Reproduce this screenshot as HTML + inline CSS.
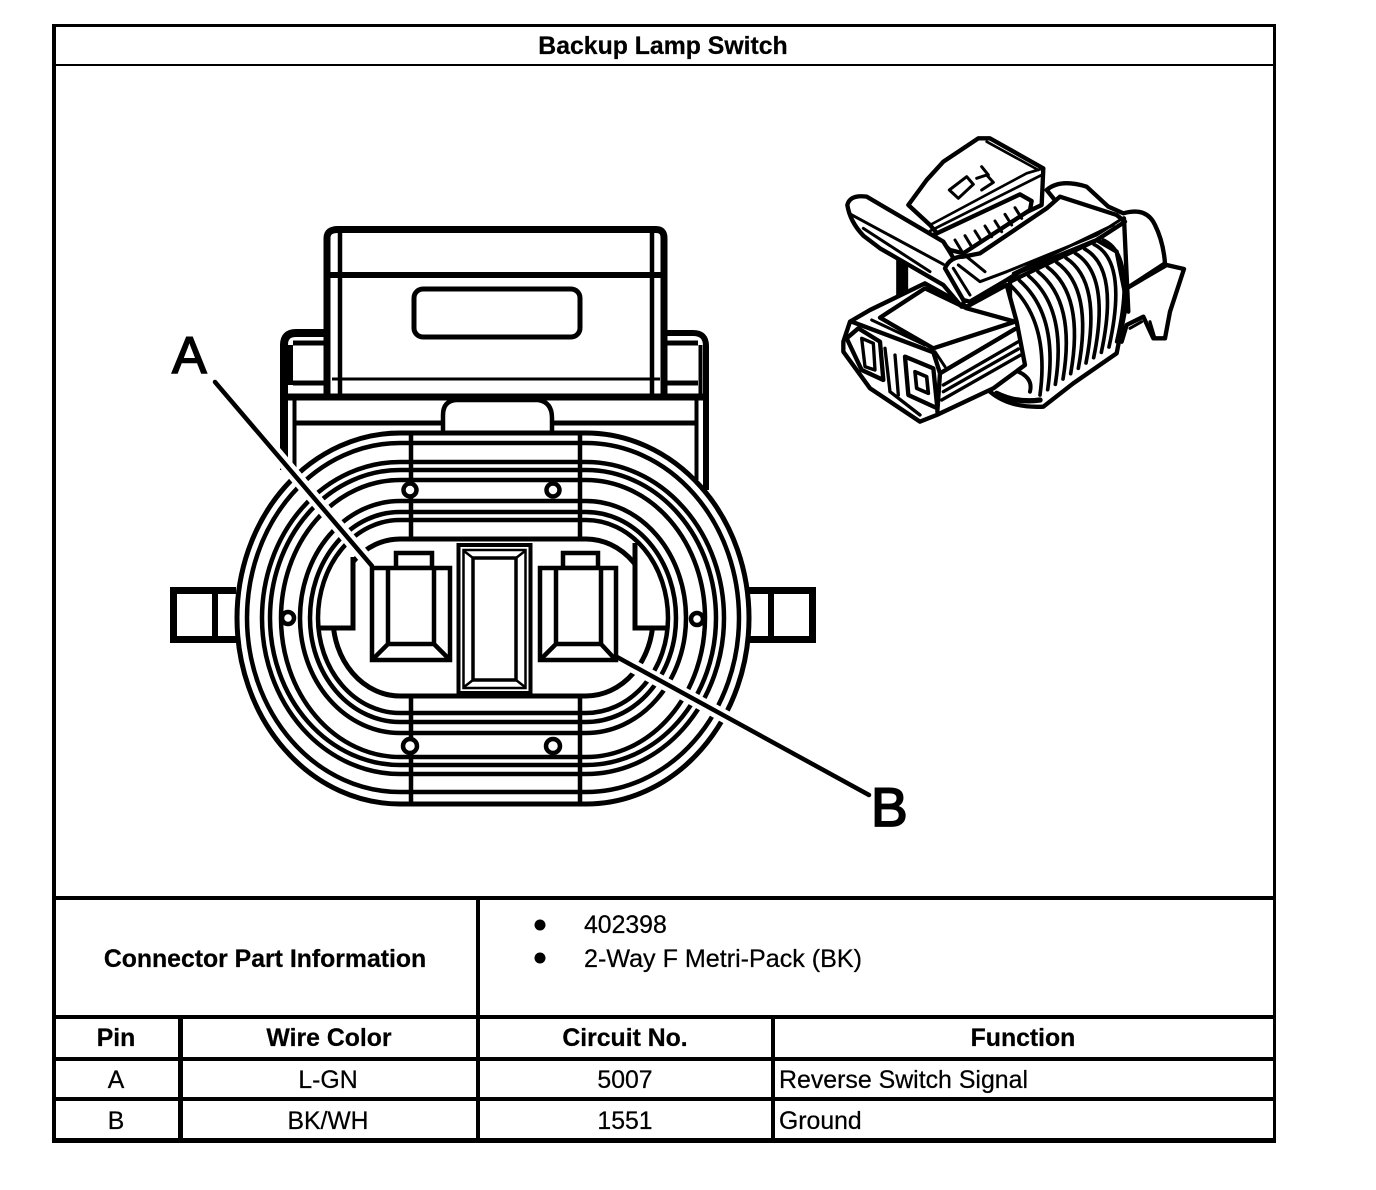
<!DOCTYPE html>
<html><head><meta charset="utf-8"><title>Backup Lamp Switch</title>
<style>
html,body{margin:0;padding:0;background:#fff;width:1376px;height:1190px;overflow:hidden}
svg{display:block}
text{font-family:"Liberation Sans",Arial,sans-serif;font-size:24.8px;fill:#000;stroke:#000;stroke-width:.25}
.b{font-weight:bold}
.m{text-anchor:middle}
</style></head><body>
<svg width="1376" height="1190" viewBox="0 0 1376 1190" xmlns="http://www.w3.org/2000/svg">
<rect width="1376" height="1190" fill="#fff"/>

<!-- table frame -->
<g fill="#000">
<rect x="52" y="24" width="1224" height="3"/>
<rect x="52" y="64" width="1224" height="2"/>
<rect x="52" y="24" width="4" height="1119"/>
<rect x="1273" y="24" width="3" height="1119"/>
<rect x="52" y="896" width="1224" height="4"/>
<rect x="52" y="1015" width="1224" height="4"/>
<rect x="52" y="1057" width="1224" height="4"/>
<rect x="52" y="1097" width="1224" height="4"/>
<rect x="52" y="1138" width="1224" height="5"/>
<rect x="476" y="896" width="4" height="247"/>
<rect x="178" y="1015" width="5" height="128"/>
<rect x="771" y="1015" width="4" height="128"/>
<circle cx="540" cy="925" r="5.5"/>
<circle cx="540" cy="958" r="5.5"/>
</g>
<text class="b m" x="663" y="54">Backup Lamp Switch</text>
<text class="b m" x="265" y="967">Connector Part Information</text>
<text x="584" y="933">402398</text>
<text x="584" y="967" textLength="278" lengthAdjust="spacingAndGlyphs">2-Way F Metri-Pack (BK)</text>
<text class="b m" x="116" y="1046">Pin</text>
<text class="b m" x="329" y="1046">Wire Color</text>
<text class="b m" x="625" y="1046">Circuit No.</text>
<text class="b m" x="1023" y="1046">Function</text>
<text class="m" x="116" y="1088">A</text>
<text class="m" x="328" y="1088">L-GN</text>
<text class="m" x="625" y="1088">5007</text>
<text x="779" y="1088" textLength="249" lengthAdjust="spacingAndGlyphs">Reverse Switch Signal</text>
<text class="m" x="116" y="1129">B</text>
<text class="m" x="328" y="1129" textLength="81" lengthAdjust="spacingAndGlyphs">BK/WH</text>
<text class="m" x="625" y="1129">1551</text>
<text x="779" y="1129">Ground</text>

<!-- front connector view -->
<g fill="none" stroke="#000" stroke-width="4">
  <!-- body behind the oval -->
  <path d="M284,470V345Q284,333 296,333H326" stroke-width="8"/>
  <path d="M286.500,345V385" stroke-width="13"/>
  <path d="M706,490V346Q706,333 693,333H666" stroke-width="6"/>
  <path d="M294.500,397V470M696.500,397V480M700.500,345V397" stroke-width="4"/>
  <path d="M293,343H326M293,383H326M667,343H698M667,383H698" stroke-width="5"/>
  <path d="M296,423H443M551,423H696" stroke-width="5"/>
  <path d="M286,397H704" stroke-width="7"/>
  <path d="M443,432V415Q443,401 456,400H538Q552,402 552,418V432" stroke-width="4.500"/>
  <!-- lid -->
  <path d="M327,397V238Q327,229.500 338,229.500H656Q664,229.500 664,238V397" stroke-width="7"/>
  <path d="M340,232V394M652,232V394" stroke-width="4.500"/>
  <path d="M330,275H664" stroke-width="6"/>
  <path d="M332,379H660" stroke-width="3"/>
  <rect x="414" y="289" width="166" height="48" rx="9" stroke-width="5"/>
</g>

<!-- concentric oval rings -->
<g fill="none" stroke="#000" stroke-width="4.500">
  <path fill="#fff" stroke-width="5" d="M400,433H586A163 185 0 0 1 749,618A163 186 0 0 1 586,804H400A163 186 0 0 1 237,618A163 185 0 0 1 400,433Z"/>
  <path stroke-width="5" d="M400,539H586A67 79 0 0 1 653,618A67 78 0 0 1 586,696H400A67 78 0 0 1 333,618A67 79 0 0 1 400,539Z"/>
  <!-- white interiors of the side keys hide the inner ring -->
  <path fill="#fff" stroke="none" d="M306,545H351V626H306Z"/>
  <path fill="#fff" stroke="none" d="M637,530H680V626H637Z"/>
  <path d="M400,443H586A153 175 0 0 1 739,618A153 174 0 0 1 586,792H400A153 174 0 0 1 247,618A153 175 0 0 1 400,443Z"/>
  <path d="M400,462H586A138 156 0 0 1 724,618A138 156 0 0 1 586,774H400A138 156 0 0 1 262,618A138 156 0 0 1 400,462Z"/>
  <path d="M400,470H586A130 148 0 0 1 716,618A130 147 0 0 1 586,765H400A130 147 0 0 1 270,618A130 148 0 0 1 400,470Z"/>
  <path d="M400,480H586A119 138 0 0 1 705,618A119 139 0 0 1 586,757H400A119 139 0 0 1 281,618A119 138 0 0 1 400,480Z"/>
  <path d="M400,501H586A100 117 0 0 1 686,618A100 115 0 0 1 586,733H400A100 115 0 0 1 300,618A100 117 0 0 1 400,501Z"/>
  <path d="M400,512H586A90 106 0 0 1 676,618A90 104 0 0 1 586,722H400A90 104 0 0 1 310,618A90 106 0 0 1 400,512Z"/>
  <path d="M400,520H586A82 98 0 0 1 668,618A82 95 0 0 1 586,713H400A82 95 0 0 1 318,618A82 98 0 0 1 400,520Z"/>
  <path stroke-width="4.500" d="M411,432V539M411,696V804M580,432V539M580,696V804"/>
</g>

<!-- small circles -->
<g fill="#fff" stroke="#000" stroke-width="4.500">
  <circle cx="410" cy="490" r="6.500"/>
  <circle cx="553" cy="490" r="6.500"/>
  <circle cx="410" cy="746" r="7"/>
  <circle cx="553" cy="746" r="7"/>
  <circle cx="288" cy="618" r="6"/>
  <circle cx="697" cy="619" r="6"/>
</g>

<!-- leader halos -->
<g fill="none">
  <path d="M222,390L372,566" stroke="#fff" stroke-width="13"/>
  <path d="M625,662L860,790" stroke="#fff" stroke-width="13"/>
</g>
<!-- side keys -->
<g fill="none" stroke="#000" stroke-width="5">
  <path d="M353,557V628H318"/>
  <path d="M635,543V628H666"/>
</g>
<path d="M215,382L372,566M617,657L869,795" fill="none" stroke="#000" stroke-width="4.500" stroke-linecap="round"/>

<!-- pins -->
<g fill="#fff" stroke="#000" stroke-width="4.500">
  <rect x="396" y="553" width="36" height="15"/>
  <rect x="372" y="568" width="78" height="92"/>
  <path d="M388,568V644H434V568M388,644L374,658M434,644L448,658" fill="none"/>
  <rect x="563" y="553" width="35" height="15"/>
  <rect x="540" y="568" width="76" height="92"/>
  <path d="M556,568V644H601V568M556,644L542,658M601,644L614,658" fill="none"/>
</g>
<!-- centre slot -->
<g fill="#fff" stroke="#000">
  <rect x="458.500" y="545" width="72" height="148" stroke-width="4"/>
  <rect x="463.500" y="550" width="62" height="138" stroke-width="2.500"/>
  <rect x="473" y="558" width="43" height="122" stroke-width="3.500"/>
  <path d="M464,551L473,558M525,551L516,558M464,687L473,680M525,687L516,680" stroke-width="2.500"/>
</g>

<!-- side tabs -->
<g fill="none" stroke="#000">
  <path d="M236,590.500H173.500V639.500H236" stroke-width="7"/>
  <path d="M215,590V640" stroke-width="6"/>
  <path d="M749,590.500H812.500V639.500H749" stroke-width="7"/>
  <path d="M771,590V640" stroke-width="6"/>
</g>

<text x="172" y="373" style="font-size:52px;stroke-width:1.500">A</text>
<text x="871" y="826" style="font-size:55px;stroke-width:1.800">B</text>

<!-- perspective connector, drawn in 3x crop units -->
<g transform="translate(830 125) scale(.33333)" stroke="#000" stroke-width="13" fill="#fff" stroke-linejoin="round" stroke-linecap="round">
  <!-- back arch -->
  <path d="M650,195Q690,160 770,185L835,245L880,265Q950,245 975,300Q1000,350 1005,415L890,490Z"/>
  <!-- tail -->
  <path d="M890,490L1010,420L1062,432L1020,560L1005,640L970,640L940,575L890,600L875,650L850,640L860,420Z"/>
  <path d="M900,610L935,590M960,590L975,640" fill="none" stroke-width="9"/>
  <!-- ribbed cylinder -->
  <path d="M480,800Q540,850 640,845L730,775L860,685L890,530L860,380L800,345L540,470L540,700Z"/>
  <g fill="none" stroke-width="11">
    <path d="M540,480Q660,590 630,810"/>
    <path d="M568,466Q686,570 653,794"/>
    <path d="M596,453Q712,550 676,778"/>
    <path d="M624,440Q738,530 699,762"/>
    <path d="M652,426Q764,510 722,746"/>
    <path d="M680,412Q790,490 745,730"/>
    <path d="M708,399Q816,470 768,714"/>
    <path d="M736,385Q842,450 791,698"/>
    <path d="M764,372Q868,430 814,682"/>
    <path d="M792,358Q894,410 837,666"/>
    <path d="M820,345Q920,390 860,650"/>
  </g>
  <path d="M500,805Q560,835 630,825" fill="none" stroke-width="16"/>
  <path d="M565,740Q610,760 600,800" fill="none" stroke-width="12"/>
  <!-- stub under lever -->
  <path d="M205,400H228V510H205Z" fill="#000"/>
  <!-- nose box -->
  <path d="M40,650L60,590L120,555L285,475L410,545L530,480L560,590L585,720L490,790L320,870L270,890L120,790L40,680Z"/>
  <path d="M150,578L285,490L410,550L555,590L310,670Z"/>
  <path d="M65,590L310,682L330,745L555,612M330,745L322,860" fill="none"/>
  <path d="M125,585L285,660M315,680L345,725" fill="none" stroke-width="9"/>
  <path d="M335,825L572,690M340,780L565,650M340,800L565,672" fill="none" stroke-width="10"/>
  <!-- nose cavities -->
  <path d="M50,640L85,610L150,650L160,765L95,735Z"/>
  <path d="M95,640L105,725L135,735L130,655Z" fill="none" stroke-width="10"/>
  <path d="M165,670L180,800M195,690L205,810M180,800L270,870" fill="none" stroke-width="10"/>
  <path d="M225,695L310,730L322,850L235,810Z"/>
  <path d="M255,740L290,755L295,805L260,790Z" fill="none" stroke-width="11"/>
  <!-- lock body -->
  <path d="M235,240L290,165L340,110L445,40L480,40L640,130L635,240L360,370L300,300Z"/>
  <path d="M300,300L590,145L640,130M470,50L625,135M300,318L635,150" fill="none" stroke-width="8"/>
  <!-- marking on lock -->
  <g fill="none" stroke-width="9">
    <path d="M358,195L410,155L430,178L385,220Z"/>
    <path d="M440,160L470,150L490,172L455,195"/>
    <path d="M455,125L475,150"/>
  </g>
  <!-- ribbed latch -->
  <path d="M310,330L570,208L605,228L600,255L400,385L360,375Z"/>
  <g fill="none" stroke-width="9">
    <path d="M375,345L395,378M405,332L425,365M435,318L455,350M465,303L485,335M495,288L515,320M525,268L545,300M555,248L575,280"/>
  </g>
  <!-- lever bar -->
  <path d="M52,240Q60,208 110,215L340,350L362,385L420,490L395,545L340,480L150,370L100,332Q60,290 52,240Z"/>
  <path d="M62,268L340,418M100,310L300,440" fill="none" stroke-width="9"/>
  <!-- strap -->
  <path d="M345,430Q360,395 400,395L450,385L650,250L690,215L860,270L885,290L800,345L570,440L530,465L420,530L400,525Z"/>
  <path d="M370,430L420,510M385,420L450,470L530,440L800,330L870,285M410,395L465,440M550,445L850,300" fill="none" stroke-width="9"/>
  <path d="M882,280L895,560" fill="none"/>
</g>
</svg>
</body></html>
